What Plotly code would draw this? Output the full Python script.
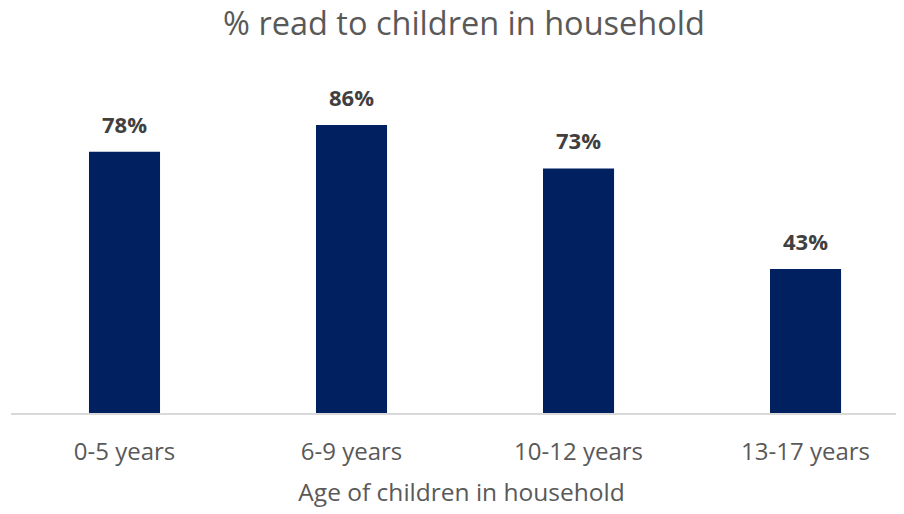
import plotly.graph_objects as go

categories = ["0-5 years", "6-9 years", "10-12 years", "13-17 years"]
values = [78, 86, 73, 43]
labels = ["78%", "86%", "73%", "43%"]

fig = go.Figure()
fig.add_trace(go.Bar(
    x=categories, y=values, width=0.313,
    marker=dict(color="#002060", line=dict(width=0)),
    hoverinfo="skip",
))
for c, v, t in zip(categories, values, labels):
    fig.add_annotation(x=c, y=v, text="<b>%s</b>" % t, showarrow=False,
                       yanchor="bottom", yshift=11,
                       font=dict(family="Open Sans", size=22, color="#404040"))

fig.update_layout(
    width=904, height=514,
    margin=dict(l=3, r=0, t=70, b=109),
    paper_bgcolor="white", plot_bgcolor="white",
    showlegend=False,
    title=dict(text="% read to children in household", x=456 / 904, xanchor="center",
               y=1 - 16 / 514, yref="container", yanchor="middle",
               font=dict(family="Open Sans", size=32.5, color="#595959")),
    xaxis=dict(range=[-0.5, 3.469], showline=True, linecolor="#D9D9D9", linewidth=2,
               ticks="outside", ticklen=16, tickcolor="rgba(0,0,0,0)",
               tickfont=dict(family="Open Sans", size=24, color="#595959"),
               title=dict(text="Age of children in household", standoff=18,
                          font=dict(family="Open Sans", size=24.5, color="#595959")),
               automargin=False, fixedrange=True),
    yaxis=dict(range=[0, 100], visible=False, showgrid=False, fixedrange=True),
)
fig.write_html("out.html")
